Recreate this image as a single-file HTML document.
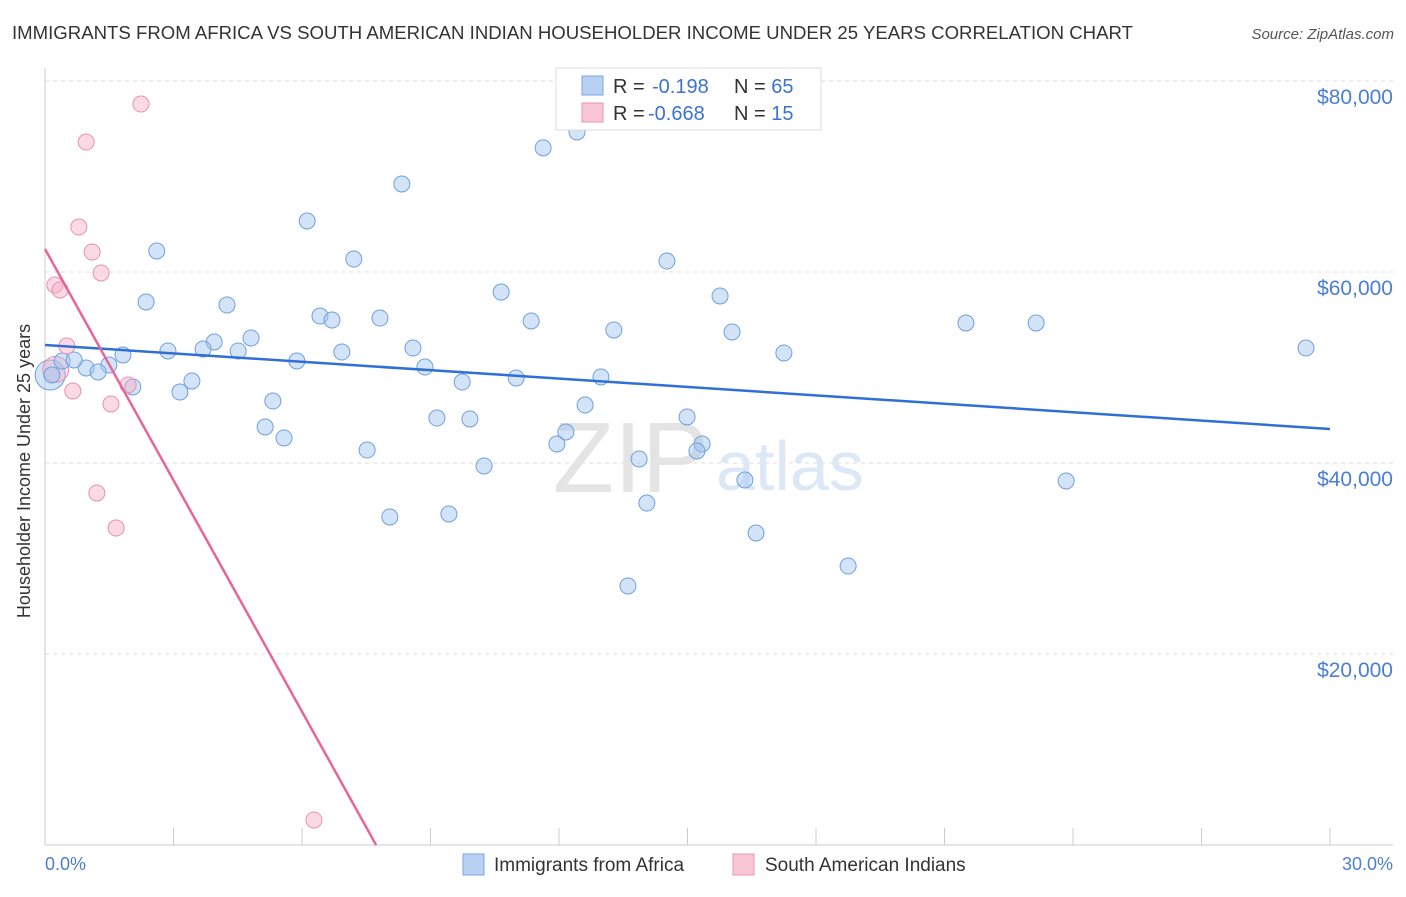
<!DOCTYPE html>
<html><head><meta charset="utf-8"><style>
body{margin:0;background:#fff;font-family:"Liberation Sans",sans-serif}
svg text{font-family:"Liberation Sans",sans-serif}
</style></head><body>
<svg width="1406" height="892" viewBox="0 0 1406 892">
<text x="12" y="39" font-size="18.6" fill="#333">IMMIGRANTS FROM AFRICA VS SOUTH AMERICAN INDIAN HOUSEHOLDER INCOME UNDER 25 YEARS CORRELATION CHART</text>
<text x="1394" y="39" font-size="15" fill="#555" font-style="italic" text-anchor="end">Source: ZipAtlas.com</text>
<g id="grid"></g>
<text x="553" y="492" font-size="100" fill="#e4e4e4" font-family="Liberation Serif">ZIP</text>
<text x="716" y="490" font-size="70" fill="#dce8f6">atlas</text>
<line x1="45" y1="68" x2="45" y2="845" stroke="#ccc"/>
<line x1="45" y1="845" x2="1393" y2="845" stroke="#ccc"/>
<g id="ticks"></g>
<g id="pts"></g>
<g id="trends"></g>
<text x="17" y="458" font-size="18" fill="#333" transform="rotate(-90 30 458)" text-anchor="middle">Householder Income Under 25 years</text>
<text x="45" y="870" font-size="18" fill="#4a7fd4">0.0%</text>
<text x="1393" y="870" font-size="18" fill="#4a7fd4" text-anchor="end">30.0%</text>
<g>
<rect x="463" y="854" width="21" height="21" fill="#b8d1f3" stroke="#7aa6e0"/>
<text x="494" y="871" font-size="19" fill="#333">Immigrants from Africa</text>
<rect x="733" y="854" width="21" height="21" fill="#f9c6d5" stroke="#e994b2"/>
<text x="765" y="871" font-size="19" fill="#333">South American Indians</text>
</g>
<g>
<rect x="556" y="68" width="265" height="62" fill="#fff" stroke="#ddd"/>
<rect x="582" y="76" width="21" height="19" fill="#b8d1f3" stroke="#7aa6e0"/>
<rect x="582" y="103" width="21" height="19" fill="#f9c6d5" stroke="#e994b2"/>
<text x="613" y="93" font-size="20" fill="#333">R = <tspan x="652" fill="#3b73cf">-0.198</tspan><tspan x="734">N = </tspan><tspan fill="#3b73cf">65</tspan></text>
<text x="613" y="120" font-size="20" fill="#333">R = <tspan x="648" fill="#3b73cf">-0.668</tspan><tspan x="734">N = </tspan><tspan fill="#3b73cf"> 15</tspan></text>
</g>
</svg>
<script>
const yTicks=[20000,40000,60000,80000];
const yTickLabels=["$20,000","$40,000","$60,000","$80,000"];
const africaX=[12.42,11.63,8.33,6.12,2.61,7.21,14.52,2.36,4.25,10.65,15.76,6.42,6.70,7.82,11.35,13.28,16.04,21.50,23.14,29.44,4.81,3.95,2.87,3.69,4.51,6.93,8.59,17.25,1.82,5.88,8.87,1.49,0.96,1.24,0.40,0.68,0.16,2.05,3.43,3.15,9.74,11.00,12.98,5.32,12.61,9.15,9.92,14.99,5.14,5.58,12.16,11.95,15.34,15.22,7.52,13.87,10.25,16.34,23.84,14.05,8.05,9.43,16.60,18.75,13.61];
const africaY=[74660,73000,69215,65340,62200,61360,61150,56860,56540,57900,57490,55390,54970,55180,54870,53930,53720,54660,54660,52040,53090,52670,51730,51940,51730,51620,52040,51520,51310,50680,50050,50260,49950,49530,50680,50790,49210,47960,48590,47430,48480,48900,49010,46490,46070,44710,44610,44820,43770,42620,43250,41990,41990,41260,41360,40420,39690,38220,38120,35810,34350,34660,32670,29210,27120];
const saiX=[2.24,0.96,0.79,1.10,1.31,0.23,0.35,0.51,0.65,1.94,1.54,1.21,1.66,6.28];
const saiY=[77590,73610,64710,62090,59900,58640,58120,52250,47540,48170,46180,36860,33190,2620];
const bigX=[0.12,0.25];const bigY=[49210,49800];
const africaTrend=[52360,43560];
const saiTrend=[62410,0,7.73];
const X=v=>45+v/30*1285, Y=v=>845-v/20000*191;
const NS="http://www.w3.org/2000/svg";
function mk(t,a,p){const e=document.createElementNS(NS,t);for(const k in a)e.setAttribute(k,a[k]);p.appendChild(e);return e;}
const grid=document.getElementById('grid');
yTicks.forEach((v,i)=>{
 const l=mk('line',{x1:45,x2:1393,y1:Y(v),y2:Y(v),stroke:'#ddd','stroke-dasharray':'4,4'},grid);
 
 
 const t=mk('text',{x:1393,y:Y(v)+23,'font-size':21,fill:'#4a7fd4','text-anchor':'end'},grid);
 t.textContent=yTickLabels[i];
 
 
});
const tk=document.getElementById('ticks');
for(let i=0;i<=10;i++){const l=mk('line',{x1:X(i*3),x2:X(i*3),y1:828,y2:845,stroke:'#ccc'},tk);
 
 }
const pts=document.getElementById('pts');
const b1=mk('circle',{cx:X(bigX[0]),cy:Y(bigY[0]),r:15,fill:'rgba(160,196,240,0.45)',stroke:'#6fa0dc'},pts);


const b2=mk('circle',{cx:X(bigX[1]),cy:Y(bigY[1]),r:13,fill:'rgba(246,172,198,0.4)',stroke:'#e890b0'},pts);


africaX.forEach((x,i)=>{const c=mk('circle',{cx:X(x),cy:Y(africaY[i]),r:8,fill:'rgba(160,196,240,0.45)',stroke:'#6fa0dc','stroke-width':1},pts);
 
 });
saiX.forEach((x,i)=>{const c=mk('circle',{cx:X(x),cy:Y(saiY[i]),r:8,fill:'rgba(246,172,198,0.45)',stroke:'#e890b0','stroke-width':1},pts);
 
 });
const tr=document.getElementById('trends');
const l1=mk('line',{x1:X(0),y1:Y(africaTrend[0]),x2:X(30),y2:Y(africaTrend[1]),stroke:'#2f6fd6','stroke-width':2.5},tr);


const l2=mk('line',{x1:X(0),y1:Y(saiTrend[0]),x2:X(saiTrend[2]),y2:Y(saiTrend[1]),stroke:'#e5679a','stroke-width':2.5},tr);


</script>
</body></html>
